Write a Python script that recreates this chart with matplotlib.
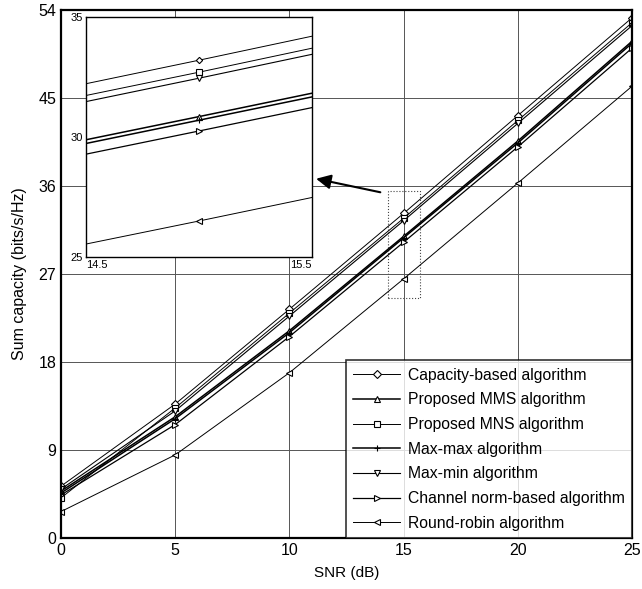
import matplotlib
matplotlib.use("Agg")
import matplotlib.pyplot as plt
from matplotlib.patches import Rectangle

plt.rcParams['font.family'] = ['Liberation Sans', 'DejaVu Sans']

snr = [0, 5, 10, 15, 20, 25]
capacity_based = [5.3, 13.7, 23.4, 33.2, 43.2, 53.2]
proposed_mms = [4.8, 12.4, 21.2, 30.85, 40.6, 50.8]
proposed_mns = [4.1, 13.3, 23.0, 32.7, 42.7, 52.7]
max_max = [4.6, 12.2, 21.0, 30.7, 40.4, 50.6]
max_min = [5.0, 13.0, 22.7, 32.45, 42.4, 52.4]
channel_norm = [4.4, 11.6, 20.6, 30.25, 40.0, 50.1]
round_robin = [2.7, 8.5, 16.9, 26.5, 36.3, 46.2]

series = [
    ("Capacity-based algorithm", capacity_based, "D", 0.7),
    ("Proposed MMS algorithm", proposed_mms, "^", 1.1),
    ("Proposed MNS algorithm", proposed_mns, "s", 0.7),
    ("Max-max algorithm", max_max, "+", 1.1),
    ("Max-min algorithm", max_min, "v", 0.8),
    ("Channel norm-based algorithm", channel_norm, ">", 0.9),
    ("Round-robin algorithm", round_robin, "<", 0.7),
]


def draw(ax, ms):
    for label, vals, mk, lw in series:
        size = ms * 0.8 if mk == "D" else ms
        ax.plot(snr, vals, color="black", linewidth=lw, marker=mk, markersize=size,
                markerfacecolor="white", markeredgecolor="black", markeredgewidth=0.8,
                label=label)


fig = plt.figure(figsize=(6.42, 5.89), dpi=100)
ax = fig.add_axes([61 / 642, 51 / 589, 571 / 642, 528 / 589])
draw(ax, 5)
ax.set_xlim(0, 25)
ax.set_ylim(0, 54)
ax.set_xticks(snr)
ax.set_yticks(range(0, 55, 9))
ax.grid(True, color="#555555", linewidth=0.7)
ax.tick_params(direction="in", labelsize=11.5, length=0)
for s in ax.spines.values():
    s.set_linewidth(1.6)
ax.set_xlabel("SNR (dB)", fontsize=11, labelpad=6)
ax.set_ylabel("Sum capacity (bits/s/Hz)", fontsize=11.5, labelpad=8)

leg = ax.legend(loc="lower right", fontsize=11.3, frameon=True, fancybox=False,
                edgecolor="black", borderaxespad=0, handlelength=3.0,
                labelspacing=0.62, borderpad=0.45, handletextpad=0.5)
leg.get_frame().set_linewidth(1.2)

# zoom region marker
ax.add_patch(Rectangle((14.3, 24.5), 1.4, 11.0, fill=False, linestyle=":",
                       edgecolor="#444444", linewidth=0.8))
ax.annotate("", xy=(11.05, 36.8), xytext=(14.1, 35.3),
            arrowprops=dict(arrowstyle="-|>", color="black", lw=1.5,
                            mutation_scale=22))

# inset
ins = fig.add_axes([86 / 642, 332 / 589, 226 / 642, 240 / 589])
draw(ins, 4)
ins.set_xlim(14.5, 15.5)
ins.set_ylim(25, 35)
ins.set_xticks([14.5, 15.5])
ins.set_yticks([25, 30, 35])
ins.tick_params(direction="in", labelsize=8, length=0, pad=2)
xl = ins.get_xticklabels()
xl[0].set_horizontalalignment("left")
xl[1].set_horizontalalignment("right")
for s in ins.spines.values():
    s.set_linewidth(1.0)

fig.savefig("out.png", dpi=100)
